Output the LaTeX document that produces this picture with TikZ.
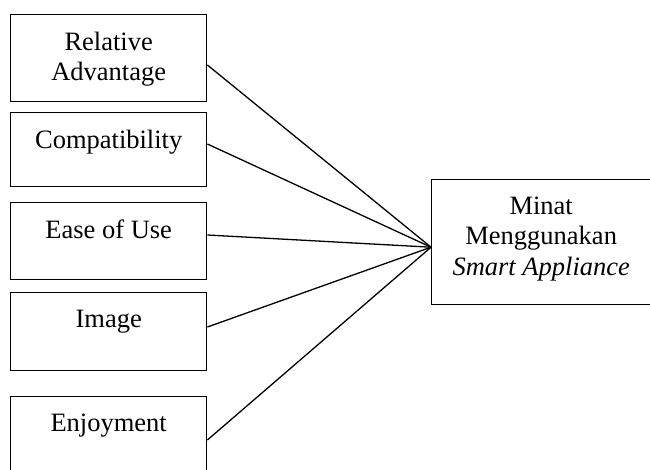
\documentclass[tikz,border=0pt]{standalone}
\usepackage{fontspec}
\setmainfont{Liberation Serif}
\begin{document}
\begin{tikzpicture}[x=1pt,y=-1pt,
  box/.style={draw, line width=1.4pt, rectangle, inner sep=0pt, anchor=north west},
  lbl/.style={anchor=north, inner sep=0pt, align=center, font=\fontsize{26.5}{30.5}\selectfont},
  link/.style={line width=1.3pt}]
\clip (0,0) rectangle (650,469);
\useasboundingbox (0,0) rectangle (650,469);
% left boxes
\node[box, minimum width=196pt, minimum height=87pt] (b1) at (10,14) {};
\node[box, minimum width=196pt, minimum height=74pt] (b2) at (10,112) {};
\node[box, minimum width=196pt, minimum height=77pt] (b3) at (10,202) {};
\node[box, minimum width=196pt, minimum height=78pt] (b4) at (10,292) {};
\node[box, minimum width=196pt, minimum height=90pt] (b5) at (10,396) {};
% right box
\node[box, minimum width=221pt, minimum height=125pt] (m) at (431,179) {};
% labels
\node[lbl] (t1) at ([yshift=-17.5pt]b1.north) {Relative\\Advantage};
\node[lbl] (t2) at ([yshift=-17.5pt]b2.north) {Compatibility};
\node[lbl] (t3) at ([yshift=-17.5pt]b3.north) {Ease of Use};
\node[lbl] (t4) at ([yshift=-17.5pt]b4.north) {Image};
\node[lbl] (t5) at ([yshift=-17.5pt]b5.north) {Enjoyment};
\node[lbl] (tm) at ([xshift=-1pt,yshift=-17.5pt]m.north) {Minat\\Menggunakan\\\textit{Smart Appliance}};
% connectors
\coordinate (y1) at (0,65);
\coordinate (y2) at (0,144);
\coordinate (y3) at (0,235);
\coordinate (y4) at (0,327);
\coordinate (y5) at (0,440);
\coordinate (c) at ([yshift=-5pt]m.west);
\draw[link] (b1.east |- y1) -- (c);
\draw[link] (b2.east |- y2) -- (c);
\draw[link] (b3.east |- y3) -- (c);
\draw[link] (b4.east |- y4) -- (c);
\draw[link] (b5.east |- y5) -- (c);
\end{tikzpicture}
\end{document}
